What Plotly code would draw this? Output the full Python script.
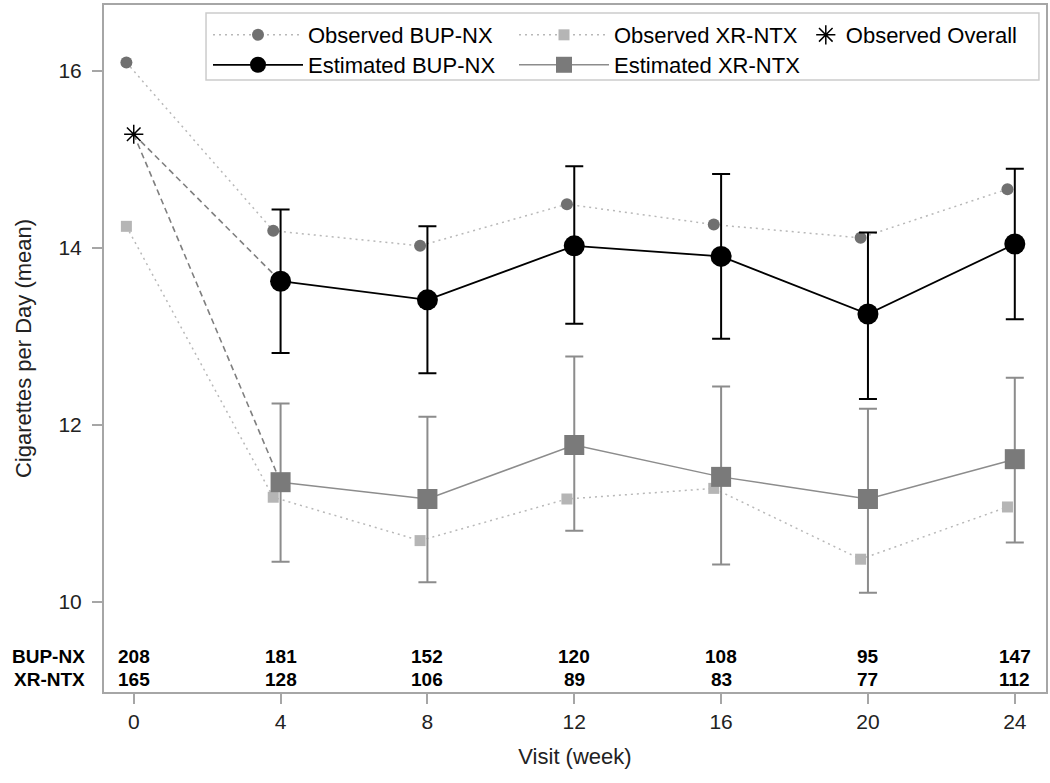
import plotly.graph_objects as go

# ---------------- data ----------------
weeks = [0, 4, 8, 12, 16, 20, 24]
obs_bup = [16.09, 14.19, 14.02, 14.49, 14.26, 14.11, 14.66]
obs_xr = [14.24, 11.18, 10.69, 11.16, 11.28, 10.48, 11.07]
overall_week = [0]
obs_overall = [15.28]

est_weeks = [4, 8, 12, 16, 20, 24]
est_bup = [13.62, 13.41, 14.02, 13.90, 13.25, 14.04]
est_bup_lo = [12.81, 12.58, 13.14, 12.97, 12.29, 13.19]
est_bup_hi = [14.43, 14.24, 14.92, 14.83, 14.17, 14.89]
est_xr = [11.35, 11.16, 11.77, 11.41, 11.16, 11.61]
est_xr_lo = [10.45, 10.22, 10.80, 10.42, 10.10, 10.67]
est_xr_hi = [12.24, 12.09, 12.77, 12.43, 12.18, 12.53]

n_bup = [208, 181, 152, 120, 108, 95, 147]
n_xr = [165, 128, 106, 89, 83, 77, 112]
row_labels = ["BUP-NX", "XR-NTX"]

y_ticks = [10, 12, 14, 16]

# ---------------- style ----------------
FONT = "Arial, Liberation Sans, sans-serif"
OBS_OFFSET = -0.2
FRAME = "#a6a6a6"

obs_x = [w + OBS_OFFSET for w in weeks]

fig = go.Figure()

# observed lines (dotted)
fig.add_trace(go.Scatter(
    x=obs_x, y=obs_bup, mode="lines+markers", name="Observed BUP-NX",
    line=dict(color="#b8b8b8", width=1.5, dash="2px,4px"),
    marker=dict(symbol="circle", size=12, color="#707070"),
    legend="legend"))
fig.add_trace(go.Scatter(
    x=obs_x, y=obs_xr, mode="lines+markers", name="Observed XR-NTX",
    line=dict(color="#b8b8b8", width=1.5, dash="2px,4px"),
    marker=dict(symbol="square", size=11, color="#b5b5b5"),
    legend="legend"))

# dashed lines from overall baseline to week-4 estimates
for est in (est_bup, est_xr):
    fig.add_trace(go.Scatter(
        x=[overall_week[0], est_weeks[0]], y=[obs_overall[0], est[0]],
        mode="lines", showlegend=False, hoverinfo="skip",
        line=dict(color="#7f7f7f", width=1.6, dash="6px,4px")))

fig.add_trace(go.Scatter(
    x=overall_week, y=obs_overall, mode="markers", name="Observed Overall",
    marker=dict(symbol="asterisk-open", size=16, color="#000000",
                line=dict(color="#000000", width=1.5)),
    legend="legend3"))

# estimated
fig.add_trace(go.Scatter(
    x=est_weeks, y=est_bup, mode="lines+markers", name="Estimated BUP-NX",
    line=dict(color="#000000", width=1.8),
    marker=dict(symbol="circle", size=21, color="#000000"),
    error_y=dict(type="data", symmetric=False,
                 array=[h - v for h, v in zip(est_bup_hi, est_bup)],
                 arrayminus=[v - l for l, v in zip(est_bup_lo, est_bup)],
                 color="#000000", thickness=2, width=9),
    legend="legend2"))
fig.add_trace(go.Scatter(
    x=est_weeks, y=est_xr, mode="lines+markers", name="Estimated XR-NTX",
    line=dict(color="#8c8c8c", width=1.5),
    marker=dict(symbol="square", size=20, color="#7a7a7a"),
    error_y=dict(type="data", symmetric=False,
                 array=[h - v for h, v in zip(est_xr_hi, est_xr)],
                 arrayminus=[v - l for l, v in zip(est_xr_lo, est_xr)],
                 color="#8c8c8c", thickness=2, width=9),
    legend="legend2"))

# at-risk table
annotations = []
for counts, yp, lab in ((n_bup, 0.0524, row_labels[0]), (n_xr, 0.0175, row_labels[1])):
    annotations.append(dict(x=-0.018, y=yp, xref="paper", yref="paper", text="<b>%s</b>" % lab,
                            showarrow=False, xanchor="right", yanchor="middle",
                            font=dict(family=FONT, size=19, color="#000000")))
    for w, c in zip(weeks, counts):
        annotations.append(dict(x=w, y=yp, xref="x", yref="paper", text="<b>%d</b>" % c,
                                showarrow=False, xanchor="center", yanchor="middle",
                                font=dict(family=FONT, size=19, color="#000000")))

legend_common = dict(orientation="h", bgcolor="rgba(0,0,0,0)", borderwidth=0,
                     font=dict(family=FONT, size=22, color="#000000"),
                     xanchor="left", yanchor="middle", xref="paper", yref="paper",
                     tracegroupgap=0, itemsizing="trace")

fig.update_layout(
    width=1050, height=783,
    margin=dict(l=104, r=4, t=5, b=91, autoexpand=False),
    plot_bgcolor="white", paper_bgcolor="white",
    font=dict(family=FONT, color="#000000"),
    showlegend=True,
    legend=dict(x=0.1104, y=0.9563, itemwidth=90, entrywidth=201, **legend_common),
    legend2=dict(x=0.1104, y=0.9127, itemwidth=90, entrywidth=201, **legend_common),
    legend3=dict(x=0.745, y=0.9563, itemwidth=30, **legend_common),
    xaxis=dict(range=[-0.81, 24.85], tickvals=weeks, ticktext=[str(w) for w in weeks],
               showgrid=False, zeroline=False, showline=True, mirror=True,
               linecolor=FRAME, linewidth=2, ticks="outside", ticklen=10,
               tickcolor=FRAME, tickwidth=1.5, automargin=False,
               tickfont=dict(family=FONT, size=21, color="#222222"),
               title=dict(text="Visit (week)", font=dict(family=FONT, size=22, color="#222222"),
                          standoff=16)),
    yaxis=dict(range=[8.98, 16.74], tickvals=y_ticks, ticktext=[str(v) for v in y_ticks],
               showgrid=False, zeroline=False, showline=True, mirror=True,
               linecolor=FRAME, linewidth=2, ticks="outside", ticklen=10,
               tickcolor=FRAME, tickwidth=1.5, ticklabelstandoff=6, automargin=False,
               tickfont=dict(family=FONT, size=21, color="#222222"),
               title=dict(text="Cigarettes per Day (mean)",
                          font=dict(family=FONT, size=22, color="#222222"), standoff=21)),
    shapes=[dict(type="rect", xref="paper", yref="paper",
                 x0=0.1083, x1=0.9925, y0=0.8908, y1=0.9884,
                 line=dict(color="#cccccc", width=1.5), fillcolor="rgba(0,0,0,0)")],
    annotations=annotations,
)

fig.write_html("out.html", config={"displayModeBar": False},
               post_script="document.body.style.margin='0';")
